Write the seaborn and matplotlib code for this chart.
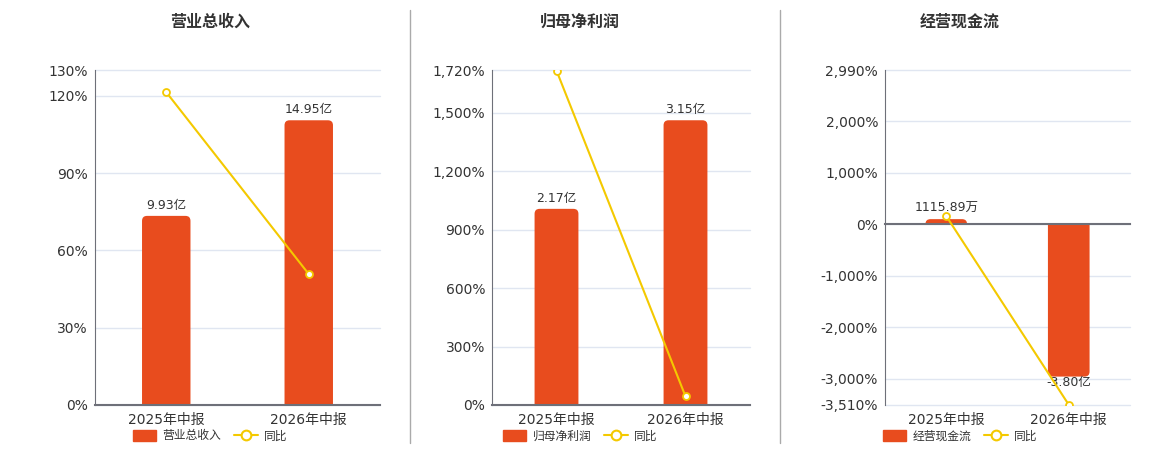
import numpy as np
import matplotlib
matplotlib.use("Agg")
import matplotlib.pyplot as plt
import seaborn as sns
from matplotlib.lines import Line2D
from matplotlib.patches import Patch, FancyBboxPatch, Rectangle
from matplotlib.ticker import FuncFormatter

# ---------------- data ----------------
categories = ["2025年中报", "2026年中报"]

titles = ["营业总收入", "归母净利润", "经营现金流"]

revenue = [9.93, 14.95]                 # 亿
revenue_labels = ["9.93亿", "14.95亿"]
revenue_yoy = [121.4, 50.8]             # %
revenue_ticks = [0, 30, 60, 90, 120, 130]

profit = [2.17, 3.15]                   # 亿
profit_labels = ["2.17亿", "3.15亿"]
profit_yoy = [1717, 44.3]
profit_ticks = [0, 300, 600, 900, 1200, 1500, 1720]

cashflow = [0.111589, -3.80]            # 亿
cashflow_labels = ["1115.89万", "-3.80亿"]
cashflow_yoy = [156, -3505]
cashflow_ticks = [-3510, -3000, -2000, -1000, 0, 1000, 2000, 2990]

yoy_label = "同比"

# ---------------- style ----------------
sns.set_theme(style="white")
plt.rcParams["font.family"] = ["DejaVu Sans", "Noto Sans CJK SC"]
plt.rcParams["axes.unicode_minus"] = False

BAR = "#e84c1e"
LINE = "#f4c900"
TEXT = "#333333"
AXIS = "#6e7079"
GRID = "#e0e6f1"

W, H = 1160, 450
fig = plt.figure(figsize=(W / 100, H / 100), dpi=100)

panels = [
    dict(vals=revenue, labels=revenue_labels, yoy=revenue_yoy, ticks=revenue_ticks,
         bar_lim=(0, 17.59), rect=(95, 70, 285, 335), cx=210),
    dict(vals=profit, labels=profit_labels, yoy=profit_yoy, ticks=profit_ticks,
         bar_lim=(0, 3.706), rect=(492, 70, 258, 335), cx=580),
    dict(vals=cashflow, labels=cashflow_labels, yoy=cashflow_yoy, ticks=cashflow_ticks,
         bar_lim=(-4.506, 3.817), rect=(885, 70, 245, 335), cx=960),
]

pct_fmt = FuncFormatter(lambda v, p: f"{int(round(v)):,}%")
RADIUS_PX = 5

for title, pn in zip(titles, panels):
    x0, y0, w, h = pn["rect"]
    axb = fig.add_axes([x0 / W, 1 - (y0 + h) / H, w / W, h / H])
    axl = axb.twinx()

    # bars on base axes
    sns.barplot(x=categories, y=pn["vals"], ax=axb, color=BAR, width=0.34,
                saturation=1, zorder=2)

    # line on twin axes
    sns.lineplot(x=np.arange(len(categories)), y=pn["yoy"], ax=axl, color=LINE,
                 linewidth=1.5, marker="o", markersize=5,
                 markerfacecolor="white", markeredgecolor=LINE,
                 markeredgewidth=1.3, zorder=5)

    # limits
    ncat = len(categories)
    axb.set_ylim(*pn["bar_lim"])
    axl.set_ylim(pn["ticks"][0], pn["ticks"][-1])
    axb.set_xlim(-0.5, ncat - 0.5)

    # data units per pixel
    ux = ncat / w
    uy = (pn["bar_lim"][1] - pn["bar_lim"][0]) / h
    rx = RADIUS_PX * ux
    ry = RADIUS_PX * uy

    # replace seaborn's rectangles by rounded-end bars with the same geometry
    bars = list(axb.patches)
    for patch, lab in zip(bars, pn["labels"]):
        bx, by = patch.get_x(), patch.get_y()
        bw, bh = patch.get_width(), patch.get_height()
        lo, hi = min(by, by + bh), max(by, by + bh)
        end_val = by + bh
        if end_val >= 0:
            box = FancyBboxPatch((bx, lo - ry), bw, (hi - lo) + ry,
                                 boxstyle=f"round,pad=0,rounding_size={rx}",
                                 mutation_aspect=ry / rx, facecolor=BAR,
                                 edgecolor="none", zorder=2)
            clip = Rectangle((bx - bw, lo), 3 * bw, (hi - lo) + 10 * ry,
                             transform=axb.transData)
        else:
            box = FancyBboxPatch((bx, lo), bw, (hi - lo) + ry,
                                 boxstyle=f"round,pad=0,rounding_size={rx}",
                                 mutation_aspect=ry / rx, facecolor=BAR,
                                 edgecolor="none", zorder=2)
            clip = Rectangle((bx - bw, lo - 10 * ry), 3 * bw, (hi - lo) + 10 * ry,
                             transform=axb.transData)
        axb.add_patch(box)
        box.set_clip_path(clip)
        patch.set_visible(False)

        xc = bx + bw / 2
        if end_val >= 0:
            axb.annotate(lab, (xc, hi), xytext=(0, 3), textcoords="offset points",
                         ha="center", va="bottom", fontsize=9, color=TEXT, zorder=6)
        else:
            axb.annotate(lab, (xc, lo), xytext=(0, -4), textcoords="offset points",
                         ha="center", va="center", fontsize=9, color=TEXT, zorder=6)

    # gridlines (behind bars) following the percentage scale
    for t in pn["ticks"]:
        gl = Line2D([0, 1], [t, t], transform=axl.get_yaxis_transform(),
                    color=GRID, lw=1, zorder=0.5)
        axb.add_line(gl)
        gl.set_clip_on(False)

    axb.set_ylim(*pn["bar_lim"])
    axb.set_xlim(-0.5, ncat - 0.5)

    # base axes: x labels only
    axb.set_yticks([])
    axb.set_ylabel("")
    axb.set_xlabel("")
    for s in axb.spines.values():
        s.set_visible(False)
    axb.tick_params(axis="x", which="major", length=0, pad=6, labelsize=10,
                    labelcolor=TEXT)
    axb.tick_params(axis="x", which="minor", length=0)

    # twin axes: left percentage axis, zero axis line with boundary ticks
    axl.yaxis.tick_left()
    axl.yaxis.set_label_position("left")
    axl.set_yticks(pn["ticks"])
    axl.yaxis.set_major_formatter(pct_fmt)
    axl.tick_params(axis="y", length=0, pad=5, labelsize=10, labelcolor=TEXT)
    axl.set_ylabel("")
    axl.set_xlabel("")
    axl.spines["top"].set_visible(False)
    axl.spines["right"].set_visible(False)
    axl.spines["left"].set_color(AXIS)
    axl.spines["left"].set_linewidth(0.8)
    axl.spines["bottom"].set_visible(True)
    axl.spines["bottom"].set_position(("data", 0))
    axl.spines["bottom"].set_color(AXIS)
    axl.spines["bottom"].set_linewidth(1.5)
    axl.xaxis.set_visible(True)
    axl.set_xticks([-0.5, 0.5, 1.5], minor=True)
    axl.tick_params(axis="x", which="major", length=0, labelbottom=False)
    axl.tick_params(axis="x", which="minor", length=5, width=1, color=AXIS,
                    direction="out", labelbottom=False)
    axl.set_xlim(-0.5, ncat - 0.5)

    # title
    fig.text(pn["cx"] / W, 1 - 22 / H, title, ha="center", va="center",
             fontsize=11.5, fontweight="bold", color=TEXT)

    # legend
    handles = [Patch(facecolor=BAR, edgecolor=BAR),
               Line2D([], [], color=LINE, lw=1.5, marker="o", markersize=7,
                      markerfacecolor="white", markeredgecolor=LINE,
                      markeredgewidth=1.5)]
    leg = axb.legend(handles, [title, yoy_label], loc="center",
                     bbox_to_anchor=(pn["cx"] / W, 1 - 436 / H),
                     bbox_transform=fig.transFigure, ncol=2, frameon=False,
                     fontsize=8.5, handlelength=2.0, handleheight=1.1,
                     handletextpad=0.5, columnspacing=1.1, borderaxespad=0)
    for t in leg.get_texts():
        t.set_color(TEXT)

# separators
for xs in (410, 780):
    fig.add_artist(Line2D([xs / W, xs / W], [1 - 10 / H, 1 - 443 / H],
                          transform=fig.transFigure, color="#aaaaaa", lw=1))

fig.savefig("out.png", dpi=100)
